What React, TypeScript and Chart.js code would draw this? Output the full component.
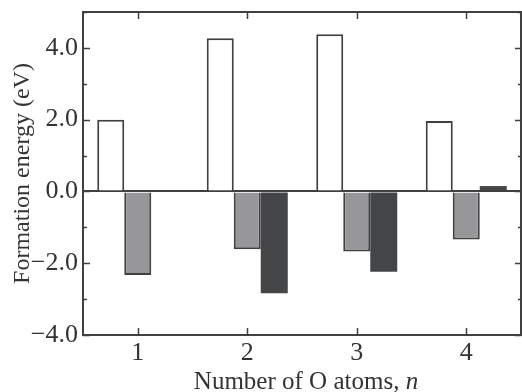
import React, { useEffect, useRef } from "react";
import { Chart, registerables } from "chart.js";

Chart.register(...registerables);

const categories = ["1", "2", "3", "4"];
const seriesOpen = [2.0, 4.27, 4.38, 1.96];
const seriesGray = [-2.33, -1.61, -1.67, -1.34];
const seriesDark = [null, -2.84, -2.24, 0.15];
const Y_MIN = -4;
const Y_MAX = 5;
const MAJOR_STEP = 2;
const MINOR_STEP = 1;

const AXIS = "#404040";
const FONT = "'Liberation Serif', 'Times New Roman', serif";

const framePlugin = {
  id: "frame",
  afterDatasetsDraw(chart: any) {
    const { ctx, chartArea: a, scales } = chart;
    const x = scales.x;
    const y = scales.y;
    ctx.save();
    ctx.strokeStyle = AXIS;
    ctx.lineWidth = 2;
    ctx.strokeRect(a.left, a.top, a.right - a.left, a.bottom - a.top);
    ctx.lineWidth = 1.5;
    ctx.beginPath();
    for (let v = Y_MIN; v <= Y_MAX; v += MINOR_STEP) {
      const py = Math.round(y.getPixelForValue(v)) + 0.5;
      const major = v % MAJOR_STEP === 0;
      const len = major ? 7 : 4;
      ctx.moveTo(a.left, py);
      ctx.lineTo(a.left + len, py);
      ctx.moveTo(a.right, py);
      ctx.lineTo(a.right - len + 1, py);
    }
    categories.forEach((_, i) => {
      const px = Math.round(x.getPixelForValue(i)) + 0.5;
      ctx.moveTo(px, a.top);
      ctx.lineTo(px, a.top + 7);
      ctx.moveTo(px, a.bottom);
      ctx.lineTo(px, a.bottom - 7);
    });
    ctx.stroke();

    // x-axis title with italic n
    const part1 = "Number of O atoms, ";
    const part2 = "n";
    ctx.fillStyle = "#333";
    ctx.textBaseline = "alphabetic";
    ctx.font = `25px ${FONT}`;
    const w1 = ctx.measureText(part1).width;
    ctx.font = `italic 25px ${FONT}`;
    const w2 = ctx.measureText(part2).width;
    const cx = (a.left + a.right) / 2 + 4;
    const startX = cx - (w1 + w2) / 2;
    const baseY = chart.height - 3;
    ctx.font = `25px ${FONT}`;
    ctx.textAlign = "left";
    ctx.fillText(part1, startX, baseY);
    ctx.font = `italic 25px ${FONT}`;
    ctx.fillText(part2, startX + w1, baseY);
    ctx.restore();
  },
};

export default function App() {
  const ref = useRef<HTMLCanvasElement>(null);
  useEffect(() => {
    if (!ref.current) return;
    const chart = new Chart(ref.current, {
      type: "bar",
      data: {
        labels: categories,
        datasets: [
          {
            data: seriesOpen,
            backgroundColor: "#ffffff",
            borderColor: AXIS,
            borderWidth: 2,
          },
          {
            data: seriesGray,
            backgroundColor: "#979799",
            borderColor: AXIS,
            borderWidth: 2,
          },
          {
            data: seriesDark as any,
            backgroundColor: "#444547",
            borderColor: "#444547",
            borderWidth: 0,
          },
        ],
      },
      options: {
        responsive: false,
        animation: false,
        devicePixelRatio: 1,
        layout: { padding: { top: 12, right: 1, left: 0, bottom: 0 } },
        plugins: {
          legend: { display: false },
          tooltip: { enabled: false },
        },
        datasets: {
          bar: { categoryPercentage: 0.74, barPercentage: 1.0 },
        },
        scales: {
          x: {
            grid: { display: false, drawTicks: false },
            border: { display: false },
            ticks: {
              color: "#333",
              font: { family: FONT, size: 26 },
              padding: 3,
            },
            afterFit: (s: any) => {
              s.height = 57;
              s.paddingLeft = 0;
              s.paddingRight = 0;
            },
          },
          y: {
            min: Y_MIN,
            max: Y_MAX,
            grid: {
              drawTicks: false,
              color: (c: any) => (c.tick && c.tick.value === 0 ? AXIS : "rgba(0,0,0,0)"),
              lineWidth: 2,
            },
            border: { display: false },
            ticks: {
              stepSize: MINOR_STEP,
              color: "#333",
              font: { family: FONT, size: 26 },
              padding: 5,
              callback: (v: any) => {
                const n = Number(v);
                if (n % MAJOR_STEP !== 0) return "";
                return n.toFixed(1).replace("-", "\u2212");
              },
            },
            title: {
              display: true,
              text: "Formation energy (eV)",
              color: "#333",
              font: { family: FONT, size: 24 },
              padding: { top: 8, bottom: 0 },
            },
            afterFit: (s: any) => {
              s.width = 83;
              s.paddingTop = 0;
              s.paddingBottom = 0;
            },
          },
        },
      },
      plugins: [framePlugin],
    });
    return () => chart.destroy();
  }, []);
  return (
    <canvas
      ref={ref}
      width={522}
      height={392}
      style={{ position: "absolute", left: 0, top: 0, display: "block" }}
    />
  );
}
